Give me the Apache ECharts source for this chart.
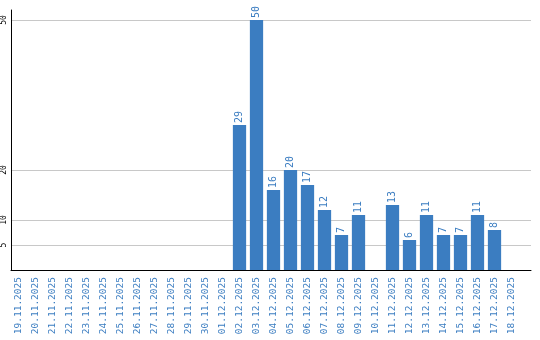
<!DOCTYPE html>
<html>
<head>
<meta charset="utf-8">
<script src="https://cdn.jsdelivr.net/npm/echarts@6/dist/echarts.min.js"></script>
<style>html,body{margin:0;padding:0;background:#fff}#c{width:540px;height:340px}</style>
</head>
<body>
<div id="c"></div>
<script>
var categories = ['19.11.2025','20.11.2025','21.11.2025','22.11.2025','23.11.2025','24.11.2025','25.11.2025','26.11.2025','27.11.2025','28.11.2025','29.11.2025','30.11.2025','01.12.2025','02.12.2025','03.12.2025','04.12.2025','05.12.2025','06.12.2025','07.12.2025','08.12.2025','09.12.2025','10.12.2025','11.12.2025','12.12.2025','13.12.2025','14.12.2025','15.12.2025','16.12.2025','17.12.2025','18.12.2025'];
var counts = [null,null,null,null,null,null,null,null,null,null,null,null,null,29,50,16,20,17,12,7,11,null,13,6,11,7,7,11,8,null];
var yTicks = [5,10,20,50];

var blue = '#3b7dc1';
var font = '"DejaVu Sans Mono", "Liberation Mono", monospace';
var chart = echarts.init(document.getElementById('c'), null, {renderer:'canvas'});
chart.setOption({
  animation:false,
  backgroundColor:'#fff',
  grid:[
    {left:10, top:10, right:9, bottom:70},
    {left:10, top:10, width:510, bottom:70}
  ],
  xAxis:[
    {gridIndex:0, type:'value', min:0, max:1,
     axisLine:{show:true, lineStyle:{color:'#000', width:1}},
     axisTick:{show:false}, axisLabel:{show:false}, splitLine:{show:false}},
    {gridIndex:1, type:'category', data:categories,
     axisLine:{show:false}, axisTick:{show:false},
     axisLabel:{rotate:90, color:blue, fontSize:9.5, fontFamily:font, margin:7, interval:0}}
  ],
  yAxis:[
    {gridIndex:0, type:'value', min:0, max:52,
     axisLine:{show:true, lineStyle:{color:'#000', width:1}},
     axisTick:{show:false, customValues:yTicks},
     axisLabel:{customValues:yTicks, rotate:90, color:'#000', fontSize:8, fontFamily:font, margin:3},
     splitLine:{show:true, lineStyle:{color:'#c8c8c8', width:1}}},
    {gridIndex:1, type:'value', min:0, max:52, show:false}
  ],
  series:[{
    type:'bar', xAxisIndex:1, yAxisIndex:1, data:counts,
    barCategoryGap:'22%',
    itemStyle:{color:blue},
    label:{show:true, position:'top', rotate:90, align:'left', verticalAlign:'middle',
      distance:2, color:blue, fontSize:10, fontFamily:font}
  }]
});
</script>
</body>
</html>
